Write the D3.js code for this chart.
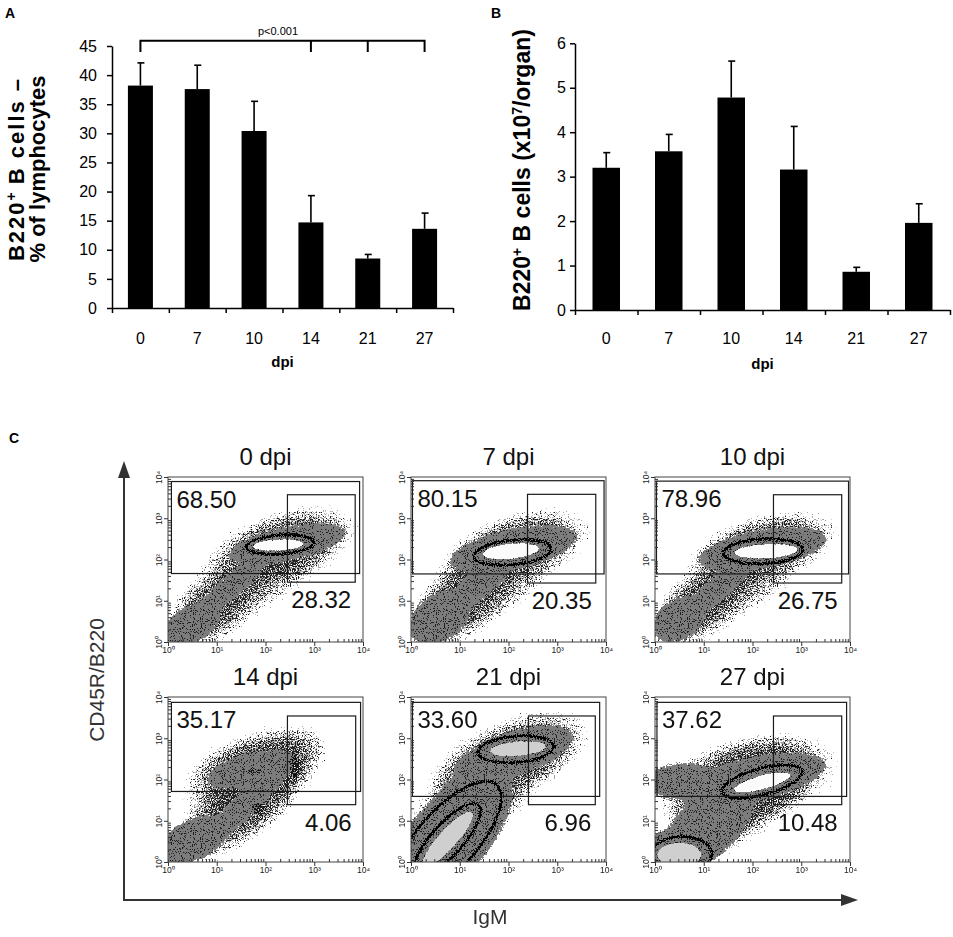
<!DOCTYPE html>
<html>
<head>
<meta charset="utf-8">
<script src="https://cdn.jsdelivr.net/npm/d3@7"></script>
<style>
  body { margin: 0; background: #fff; }
  svg text { font-family: "Liberation Sans", Arial, Helvetica, sans-serif; }
</style>
</head>
<body>
<div id="chart"></div>
<script>
// days post infection, shared by both bar charts
var days = ["0", "7", "10", "14", "21", "27"];

// A: B220+ B cells as % of lymphocytes
var pctValues = [38.2, 37.6, 30.4, 14.7, 8.5, 13.6];
var pctErrors = [3.9, 4.1, 5.1, 4.6, 0.7, 2.7];
var pctTicks = [0, 5, 10, 15, 20, 25, 30, 35, 40, 45];
var sigDays = ["0", "14", "21", "27"];

// B: B220+ B cells per organ (x10^7)
var countValues = [3.2, 3.57, 4.78, 3.16, 0.86, 1.96];
var countErrors = [0.34, 0.38, 0.82, 0.97, 0.1, 0.43];
var countTicks = [0, 1, 2, 3, 4, 5, 6];

// C: flow plots (IgM vs CD45R/B220)
var flowTitles = ["0 dpi", "7 dpi", "10 dpi", "14 dpi", "21 dpi", "27 dpi"];
var upperPct = ["68.50", "80.15", "78.96", "35.17", "33.60", "37.62"];
var lowerPct = ["28.32", "20.35", "26.75", "4.06", "6.96", "10.48"];
var decadeTicks = [1, 10, 100, 1000, 10000];
// gates as [x0, x1, y0, y1] in log10 units
var bigGates = [
  [0.07, 3.93, 1.66, 3.89], [0.03, 3.96, 1.65, 3.91], [0.03, 3.97, 1.65, 3.9],
  [0.07, 3.95, 1.71, 3.87], [0.03, 3.87, 1.59, 3.87], [0.04, 3.93, 1.59, 3.87]
];
var smallGates = [
  [2.45, 3.84, 1.45, 3.57], [2.39, 3.79, 1.43, 3.58], [2.43, 3.83, 1.43, 3.57],
  [2.45, 3.85, 1.39, 3.54], [2.41, 3.78, 1.39, 3.54], [2.43, 3.83, 1.39, 3.54]
];
// cell populations: [layer, cx, cy, rx, ry, tilt] (log10 units, tilt in degrees)
var pops0 = [
  ["halo", 2.0, 1.8, 2.5, 1.4, 32], ["halo", 2.4, 2.4, 2.1, 1.0, 14], ["halo", 0.8, 0.7, 1.5, 1.1, 38],
  ["grey", 2.45, 2.38, 1.25, 0.42, 12], ["grey", 1.3, 1.35, 0.95, 0.28, 40], ["grey", 0.5, 0.45, 0.65, 0.45, 30],
  ["ring", 2.3, 2.36, 0.7, 0.23, 4],
  ["core", 2.26, 2.35, 0.52, 0.13, 3]
];
var pops7 = [
  ["halo", 1.8, 1.6, 2.5, 1.4, 35], ["halo", 2.2, 2.4, 2.1, 1.0, 12], ["halo", 0.9, 0.9, 1.5, 1.1, 40],
  ["grey", 2.1, 2.25, 1.35, 0.5, 12], ["grey", 1.4, 1.4, 1.0, 0.35, 40], ["grey", 0.6, 0.6, 0.72, 0.58, 35],
  ["ring", 2.08, 2.17, 0.8, 0.3, 6],
  ["core", 2.05, 2.2, 0.58, 0.18, 6]
];
var pops10 = [
  ["halo", 1.8, 1.6, 2.5, 1.4, 33], ["halo", 2.3, 2.4, 2.1, 0.95, 10], ["halo", 0.8, 0.8, 1.4, 1.0, 40],
  ["grey", 2.2, 2.25, 1.35, 0.47, 10], ["grey", 1.3, 1.3, 0.9, 0.3, 40], ["grey", 0.5, 0.55, 0.6, 0.5, 35],
  ["ring", 2.22, 2.2, 0.82, 0.3, 3],
  ["core", 2.28, 2.2, 0.65, 0.17, 3]
];
var pops14 = [
  ["halo", 1.6, 1.7, 2.6, 1.5, 38], ["halo", 1.7, 2.4, 1.9, 0.95, 15], ["halo", 1.7, 1.5, 2.1, 0.95, 42],
  ["grey", 1.7, 2.25, 0.95, 0.4, 15], ["grey", 1.6, 1.4, 1.45, 0.3, 44], ["grey", 0.55, 0.55, 0.8, 0.5, 25],
  ["dark", 1.85, 1.3, 0.14, 0.16, 0], ["dark", 1.75, 2.2, 0.22, 0.07, 0], ["dark", 2.6, 2.3, 0.12, 0.4, 0]
];
var pops21 = [
  ["halo", 1.9, 2.3, 2.6, 1.5, 30], ["halo", 2.1, 2.6, 2.0, 1.0, 18], ["halo", 1.0, 1.0, 2.0, 1.3, 45],
  ["grey", 2.1, 2.62, 1.3, 0.55, 18], ["grey", 1.2, 1.8, 1.0, 0.45, 35], ["grey", 0.75, 0.55, 1.8, 0.95, 48],
  ["ring", 0.75, 0.55, 1.5, 0.72, 48], ["ring", 0.75, 0.55, 0.95, 0.38, 48], ["ring", 2.15, 2.73, 0.78, 0.32, 5],
  ["coreLight", 0.75, 0.55, 0.75, 0.22, 48], ["coreLight", 2.2, 2.75, 0.58, 0.17, 5]
];
var pops27 = [
  ["halo", 1.9, 2.0, 2.6, 1.6, 15], ["halo", 1.5, 1.2, 2.2, 1.3, 40], ["halo", 1.9, 2.0, 2.2, 1.1, 12],
  ["grey", 2.0, 2.0, 1.55, 0.55, 12], ["grey", 0.6, 1.95, 0.8, 0.45, 0], ["grey", 1.1, 0.9, 1.2, 0.75, 45],
  ["grey", 0.5, 0.3, 0.9, 0.6, 20],
  ["ring", 2.2, 1.95, 0.85, 0.32, 15], ["ring", 0.55, 0.2, 0.62, 0.42, 0],
  ["core", 2.2, 1.93, 0.6, 0.16, 15], ["coreLight", 0.5, 0.18, 0.45, 0.28, 0]
];
var flowPops = [pops0, pops7, pops10, pops14, pops21, pops27];

var W = 953, H = 937;
var svg = d3.select("#chart").append("svg").attr("width", W).attr("height", H);
svg.append("rect").attr("width", W).attr("height", H).attr("fill", "#fff");
var defs = svg.append("defs");

// ---------- bar charts ----------
function barPanel(o) {
  var g = svg.append("g");
  var x = d3.scaleBand().domain(days).range([o.left, o.right]).paddingInner(0.56).paddingOuter(0.28);
  var y = d3.scaleLinear().domain([0, o.max]).range([o.bottom, o.top]);

  g.selectAll("rect.bar").data(o.values).join("rect").attr("class", "bar")
    .attr("x", function(d, i) { return x(days[i]); })
    .attr("width", x.bandwidth())
    .attr("y", function(d) { return y(d); })
    .attr("height", function(d) { return y(0) - y(d); })
    .attr("fill", "#000");

  // error bars (upper only)
  var eb = g.selectAll("g.err").data(o.values).join("g").attr("class", "err")
    .attr("stroke", "#000").attr("stroke-width", 1.6);
  eb.append("line")
    .attr("x1", function(d, i) { return x(days[i]) + x.bandwidth() / 2; })
    .attr("x2", function(d, i) { return x(days[i]) + x.bandwidth() / 2; })
    .attr("y1", function(d) { return y(d); })
    .attr("y2", function(d, i) { return y(d + o.errors[i]); });
  eb.append("line")
    .attr("x1", function(d, i) { return x(days[i]) + x.bandwidth() / 2 - 3; })
    .attr("x2", function(d, i) { return x(days[i]) + x.bandwidth() / 2 + 4; })
    .attr("y1", function(d, i) { return y(d + o.errors[i]); })
    .attr("y2", function(d, i) { return y(d + o.errors[i]); });

  var ya = g.append("g").attr("transform", "translate(" + o.left + ",0)")
    .call(d3.axisLeft(y).tickValues(o.ticks).tickSize(5).tickSizeOuter(0).tickPadding(o.ypad).tickFormat(d3.format("d")));
  ya.selectAll("text").attr("font-size", 16).attr("fill", "#000")
    .attr("font-family", "Liberation Sans, Arial, sans-serif");

  var xb = d3.scaleLinear().domain([0, days.length]).range([o.left, o.right]);
  g.append("g").attr("transform", "translate(0," + o.bottom + ")")
    .call(d3.axisBottom(xb).tickValues(d3.range(days.length + 1)).tickSize(5).tickSizeOuter(0).tickFormat(""));

  var xl = g.append("g").attr("transform", "translate(0," + o.bottom + ")")
    .call(d3.axisBottom(x).tickSize(0).tickPadding(o.xpad));
  xl.select(".domain").remove();
  xl.selectAll("text").attr("font-size", 16).attr("fill", "#000")
    .attr("font-family", "Liberation Sans, Arial, sans-serif");

  g.selectAll(".domain, .tick line").attr("stroke", "#000").attr("stroke-width", 1.5);

  g.append("text").attr("x", (o.left + o.right) / 2).attr("y", o.bottom + 59)
    .attr("text-anchor", "middle").attr("font-size", 15).attr("font-weight", "bold").text("dpi");
  return { x: x, y: y, g: g };
}

var A = barPanel({ left: 112, right: 453, top: 46, bottom: 308, max: 45,
  values: pctValues, errors: pctErrors, ticks: pctTicks, ypad: 10, xpad: 25 });
var B = barPanel({ left: 575, right: 950, top: 43.3, bottom: 310, max: 6,
  values: countValues, errors: countErrors, ticks: countTicks, ypad: 4, xpad: 23 });

// significance bracket over A
var bx = sigDays.map(function(d) { return A.x(d) + A.x.bandwidth() / 2; });
A.g.append("path")
  .attr("d", "M" + bx[0] + ",52V40.7H" + bx[bx.length - 1] + "V52" +
    bx.slice(1, -1).map(function(v) { return "M" + v + ",40.7V52"; }).join(""))
  .attr("fill", "none").attr("stroke", "#000").attr("stroke-width", 2);
A.g.append("text").attr("x", 278).attr("y", 35).attr("text-anchor", "middle")
  .attr("font-size", 11).text("p<0.001");

// y labels
var la = svg.append("text").attr("transform", "translate(24,169) rotate(-90)")
  .attr("text-anchor", "middle").attr("font-size", 22).attr("font-weight", "bold");
la.append("tspan").attr("letter-spacing", 2).text("B220");
la.append("tspan").attr("font-size", 14).attr("dy", -8).text("+");
la.append("tspan").attr("dy", 8).attr("letter-spacing", 2).text(" B cells \u2013");
la.append("tspan").attr("x", 0).attr("dy", 21).text("% of lymphocytes");

var lb = svg.append("text").attr("transform", "translate(530,170) rotate(-90)")
  .attr("text-anchor", "middle").attr("font-size", 23).attr("font-weight", "bold");
lb.append("tspan").text("B220");
lb.append("tspan").attr("font-size", 14).attr("dy", -8).text("+");
lb.append("tspan").attr("dy", 8).text("  B cells (x10");
lb.append("tspan").attr("font-size", 14).attr("dy", -8).text("7");
lb.append("tspan").attr("dy", 8).text("/organ)");

svg.append("text").attr("x", 5).attr("y", 18).attr("font-size", 14).attr("font-weight", "bold").text("A");
svg.append("text").attr("x", 491).attr("y", 18).attr("font-size", 14).attr("font-weight", "bold").text("B");
svg.append("text").attr("x", 9).attr("y", 443).attr("font-size", 14).attr("font-weight", "bold").text("C");

// ---------- flow plots ----------
// noise-thresholded fill: keeps pixels where wAlpha*blur(alpha) + wNoise*noise > cut
function fuzzyFilter(id, color, blur, freq, seed, wAlpha, wNoise, cut) {
  var f = defs.append("filter").attr("id", id)
    .attr("filterUnits", "userSpaceOnUse").attr("x", -20).attr("y", -20).attr("width", 240).attr("height", 210)
    .attr("color-interpolation-filters", "sRGB");
  f.append("feGaussianBlur").attr("in", "SourceAlpha").attr("stdDeviation", blur).attr("result", "b");
  f.append("feTurbulence").attr("type", "fractalNoise").attr("baseFrequency", freq)
    .attr("numOctaves", 1).attr("seed", seed).attr("result", "t");
  f.append("feColorMatrix").attr("in", "t").attr("type", "matrix")
    .attr("values", "0 0 0 0 0  0 0 0 0 0  0 0 0 0 0  1 0 0 0 0").attr("result", "n");
  f.append("feComposite").attr("in", "b").attr("in2", "n").attr("operator", "arithmetic")
    .attr("k1", 0).attr("k2", wAlpha).attr("k3", wNoise).attr("k4", 0).attr("result", "s");
  f.append("feColorMatrix").attr("in", "s").attr("type", "matrix")
    .attr("values", "0 0 0 0 0  0 0 0 0 0  0 0 0 0 0  0 0 0 60 " + (-60 * cut)).attr("result", "m");
  f.append("feFlood").attr("flood-color", color).attr("result", "c");
  f.append("feComposite").attr("in", "c").attr("in2", "m").attr("operator", "in");
}
fuzzyFilter("haloDark", "#222", 0.01, 0.85, 2, 0.5, 0.7, 0.8);
fuzzyFilter("haloLight", "#a5a5a5", 0.01, 0.85, 11, 0.5, 0.7, 0.76);
fuzzyFilter("greyFill", "#7c7c7c", 3, 0.6, 5, 0.6, 0.6, 0.62);
fuzzyFilter("greyDots", "#1e1e1e", 3, 0.9, 17, 0.25, 1, 0.845);
fuzzyFilter("darkFill", "#111", 2, 0.9, 41, 0.4, 1, 0.86);
fuzzyFilter("ringFill", "#000", 1.2, 0.9, 23, 0.55, 0.9, 0.8);
fuzzyFilter("coreFill", "#fbfbfb", 1.2, 0.7, 31, 0.7, 0.5, 0.6);
fuzzyFilter("coreLightFill", "#cfcfcf", 1.2, 0.7, 37, 0.7, 0.5, 0.6);

var grad = defs.append("radialGradient").attr("id", "haloGrad");
[[0, 1], [0.45, 0.75], [0.75, 0.35], [1, 0]].forEach(function(s) {
  grad.append("stop").attr("offset", s[0]).attr("stop-color", "#000").attr("stop-opacity", s[1]);
});

var flowW = 195, flowH = 165;
var flowCols = [168, 411, 655];
var flowRows = [477, 697];
var sup = ["\u2070", "\u00b9", "\u00b2", "\u00b3", "\u2074"];

flowTitles.forEach(function(title, i) {
  var left = flowCols[i % 3], top = flowRows[Math.floor(i / 3)];
  var x = d3.scaleLog().domain([1, 1e4]).range([0, flowW]);
  var y = d3.scaleLog().domain([1, 1e4]).range([flowH, 0]);
  var lx = function(v) { return x(Math.pow(10, v)); };
  var ly = function(v) { return y(Math.pow(10, v)); };
  var g = svg.append("g").attr("transform", "translate(" + left + "," + top + ")");

  defs.append("clipPath").attr("id", "clip" + i)
    .append("rect").attr("width", flowW).attr("height", flowH);
  var plot = g.append("g").attr("clip-path", "url(#clip" + i + ")");
  var pops = flowPops[i];

  function layer(name, filter, style) {
    var sel = plot.append("g").attr("filter", "url(#" + filter + ")")
      .selectAll("ellipse").data(pops.filter(function(p) { return p[0] === name; }))
      .join("ellipse")
      .attr("rx", function(p) { return p[3] * flowW / 4; })
      .attr("ry", function(p) { return p[4] * flowH / 4; })
      .attr("transform", function(p) {
        return "translate(" + lx(p[1]) + "," + ly(p[2]) + ") rotate(" + (-p[5]) + ")";
      });
    style(sel);
  }
  layer("halo", "haloLight", function(s) { s.attr("fill", "url(#haloGrad)"); });
  layer("halo", "haloDark", function(s) { s.attr("fill", "url(#haloGrad)"); });
  layer("grey", "greyFill", function(s) { s.attr("fill", "#000"); });
  layer("grey", "greyDots", function(s) { s.attr("fill", "#000"); });
  layer("dark", "darkFill", function(s) { s.attr("fill", "#000"); });
  layer("ring", "ringFill", function(s) { s.attr("fill", "none").attr("stroke", "#000").attr("stroke-width", 3.6); });
  layer("core", "coreFill", function(s) { s.attr("fill", "#000"); });
  layer("coreLight", "coreLightFill", function(s) { s.attr("fill", "#000"); });

  // gates
  [bigGates[i], smallGates[i]].forEach(function(q) {
    g.append("rect").attr("x", lx(q[0])).attr("y", ly(q[3]))
      .attr("width", lx(q[1]) - lx(q[0])).attr("height", ly(q[2]) - ly(q[3]))
      .attr("fill", "none").attr("stroke", "#1a1a1a").attr("stroke-width", 1.2);
  });

  g.append("rect").attr("width", flowW).attr("height", flowH)
    .attr("fill", "none").attr("stroke", "#444").attr("stroke-width", 1);

  // log axes with inward ticks
  var minor = x.ticks().filter(function(v) { return decadeTicks.indexOf(v) < 0; });
  g.append("g").attr("transform", "translate(0," + flowH + ")")
    .call(d3.axisTop(x).tickValues(minor).tickSize(3).tickSizeOuter(0).tickFormat(""));
  g.append("g").call(d3.axisRight(y).tickValues(minor).tickSize(3).tickSizeOuter(0).tickFormat(""));
  g.append("g").attr("transform", "translate(0," + flowH + ")")
    .call(d3.axisBottom(x).tickValues(decadeTicks).tickSize(4).tickSizeOuter(0).tickPadding(1)
      .tickFormat(function(d, k) { return "10" + sup[k]; }));
  var yaxis = g.append("g")
    .call(d3.axisLeft(y).tickValues(decadeTicks).tickSize(4).tickSizeOuter(0).tickPadding(1)
      .tickFormat(function(d, k) { return "10" + sup[k]; }));
  yaxis.selectAll("text").attr("transform", "rotate(-90)").attr("text-anchor", "middle")
    .attr("x", 0).attr("dy", 0).attr("y", -6);
  g.selectAll(".domain").remove();
  g.selectAll(".tick line").attr("stroke", "#333");
  g.selectAll(".tick text").attr("font-size", 8.5).attr("fill", "#222")
    .attr("font-family", "Liberation Sans, Arial, sans-serif");

  g.append("text").attr("x", flowW / 2).attr("y", -12).attr("text-anchor", "middle")
    .attr("font-size", 24).attr("fill", "#111").text(title);
  var bg = bigGates[i], sg = smallGates[i];
  g.append("text").attr("x", lx(bg[0]) + 5).attr("y", ly(bg[3]) + 26)
    .attr("font-size", 24).attr("fill", "#111").text(upperPct[i]);
  g.append("text").attr("x", lx(sg[1]) - 4).attr("y", ly(sg[2]) + 26)
    .attr("text-anchor", "end").attr("font-size", 24).attr("fill", "#111").text(lowerPct[i]);
});

// big axis arrows for panel C
var arrows = svg.append("g").attr("stroke", "#333").attr("fill", "#333");
arrows.append("path").attr("d", "M124,900V474").attr("stroke-width", 2);
arrows.append("path").attr("d", "M124,461L118,478L130,478Z").attr("stroke", "none");
arrows.append("path").attr("d", "M123,900H844").attr("stroke-width", 2);
arrows.append("path").attr("d", "M858,900L841,894L841,906Z").attr("stroke", "none");
svg.append("text").attr("transform", "translate(104,680) rotate(-90)").attr("text-anchor", "middle")
  .attr("font-size", 21).attr("fill", "#333").text("CD45R/B220");
svg.append("text").attr("x", 490).attr("y", 924).attr("text-anchor", "middle")
  .attr("font-size", 21).attr("fill", "#333").text("IgM");
</script>
</body>
</html>
